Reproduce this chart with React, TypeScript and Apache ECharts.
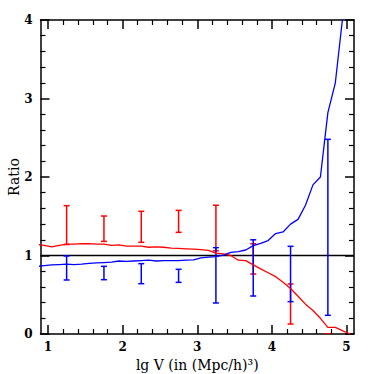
import React, { useEffect, useRef } from "react";
import * as echarts from "echarts";

const xs = [0.85, 0.95, 1.05, 1.15, 1.25, 1.35, 1.45, 1.55, 1.65, 1.75, 1.85, 1.95, 2.05, 2.15, 2.25, 2.35, 2.45, 2.55, 2.65, 2.75, 2.85, 2.95, 3.05, 3.15, 3.25, 3.35, 3.45, 3.55, 3.65, 3.75, 3.85, 3.95, 4.05, 4.15, 4.25, 4.35, 4.45, 4.55, 4.65, 4.75, 4.85, 4.95, 5.05];
const blueRatio = [0.86, 0.87, 0.88, 0.885, 0.89, 0.885, 0.89, 0.9, 0.905, 0.91, 0.915, 0.93, 0.925, 0.93, 0.935, 0.94, 0.93, 0.935, 0.935, 0.935, 0.94, 0.945, 0.97, 0.98, 0.985, 1.005, 1.04, 1.05, 1.07, 1.125, 1.155, 1.19, 1.28, 1.3, 1.4, 1.46, 1.64, 1.9, 2.0, 2.82, 3.2, 4.05, 5.0];
const redRatio = [1.14, 1.13, 1.11, 1.13, 1.145, 1.145, 1.15, 1.15, 1.145, 1.145, 1.13, 1.135, 1.12, 1.12, 1.12, 1.105, 1.11, 1.105, 1.095, 1.09, 1.085, 1.08, 1.075, 1.065, 1.03, 1.02, 1.0, 0.94, 0.935, 0.88, 0.83, 0.78, 0.73, 0.66, 0.58, 0.48, 0.38, 0.3, 0.2, 0.085, 0.085, 0.04, 0.0];

const errX = [1.25, 1.75, 2.25, 2.75, 3.25, 3.75, 4.25, 4.75];
const redLow = [1.14, 1.18, 1.168, 1.295, 1.06, 0.764, 0.127, 0.0];
const redHigh = [1.635, 1.503, 1.563, 1.575, 1.64, 1.15, 0.637, 0.0];
const blueLow = [0.688, 0.692, 0.641, 0.658, 0.395, 0.484, 0.412, 0.238];
const blueHigh = [0.994, 0.862, 0.896, 0.824, 1.1, 1.2, 1.117, 2.48];

const xMajorTicks = [1, 2, 3, 4, 5];
const xMinorTicks = [1.2, 1.4, 1.6, 1.8, 2.2, 2.4, 2.6, 2.8, 3.2, 3.4, 3.6, 3.8, 4.2, 4.4, 4.6, 4.8];
const refLevel = 1;

const FONT = "DejaVu Serif";
const RED = "#ff0000";
const BLUE = "#0000ff";

function errorBarSeries(name: string, low: number[], high: number[], color: string) {
  return {
    type: "custom",
    name,
    xAxisIndex: 0,
    yAxisIndex: 0,
    clip: true,
    data: errX.map((x, i) => [x, low[i], high[i]]),
    encode: { x: 0, y: [1, 2] },
    renderItem: (params: any, api: any) => {
      const x = api.value(0);
      const lo = api.coord([x, api.value(1)]);
      const hi = api.coord([x, api.value(2)]);
      const hw = 3;
      const style = { stroke: color, lineWidth: 1.5 };
      return {
        type: "group",
        children: [
          { type: "line", shape: { x1: lo[0], y1: lo[1], x2: hi[0], y2: hi[1] }, style },
          { type: "line", shape: { x1: lo[0] - hw, y1: lo[1], x2: lo[0] + hw, y2: lo[1] }, style },
          { type: "line", shape: { x1: hi[0] - hw, y1: hi[1], x2: hi[0] + hw, y2: hi[1] }, style },
        ],
      };
    },
  };
}

export default function App() {
  const ref = useRef<HTMLDivElement>(null);
  useEffect(() => {
    if (!ref.current) return;
    const chart = echarts.init(ref.current, null, { renderer: "svg" });
    const axisLine = { show: true, lineStyle: { color: "#000", width: 1.5 } };
    const labelStyle = { color: "#000", fontFamily: FONT, fontSize: 12, fontWeight: "bold" as const };
    const xBase = { type: "value", min: 0.9, max: 5.1, splitLine: { show: false } };
    const yBase = { type: "value", min: 0, max: 4, interval: 1, splitLine: { show: false } };
    chart.setOption({
      animation: false,
      backgroundColor: "#fff",
      grid: { left: 40.5, right: 20, top: 20, bottom: 40, containLabel: false, outerBoundsMode: "none" },
      xAxis: [
        {
          ...xBase,
          position: "bottom",
          axisLine,
          axisTick: { show: true, inside: true, length: 9, customValues: xMajorTicks, lineStyle: { color: "#000", width: 1.5 } },
          axisLabel: { show: true, customValues: xMajorTicks, margin: 7, ...labelStyle },
          name: "lg V (in (Mpc/h)\u00b3)",
          nameLocation: "middle",
          nameGap: 22,
          nameTextStyle: { color: "#000", fontFamily: FONT, fontSize: 14 },
        },
        {
          ...xBase,
          position: "bottom",
          axisLine: { show: false },
          axisTick: { show: true, inside: true, length: 5, customValues: xMinorTicks, lineStyle: { color: "#000", width: 1.2 } },
          axisLabel: { show: false },
        },
        {
          ...xBase,
          position: "top",
          axisLine,
          axisTick: { show: true, inside: true, length: 9, customValues: xMajorTicks, lineStyle: { color: "#000", width: 1.5 } },
          axisLabel: { show: false },
        },
        {
          ...xBase,
          position: "top",
          axisLine: { show: false },
          axisTick: { show: true, inside: true, length: 5, customValues: xMinorTicks, lineStyle: { color: "#000", width: 1.2 } },
          axisLabel: { show: false },
        },
      ],
      yAxis: [
        {
          ...yBase,
          position: "left",
          axisLine,
          axisTick: { show: true, inside: true, length: 9, lineStyle: { color: "#000", width: 1.5 } },
          minorTick: { show: true, splitNumber: 5, length: 5, lineStyle: { color: "#000", width: 1.2 } },
          axisLabel: { show: true, margin: 8, ...labelStyle },
          name: "Ratio",
          nameLocation: "middle",
          nameGap: 20,
          nameMoveOverlap: false,
          nameTextStyle: { color: "#000", fontFamily: FONT, fontSize: 14 },
        },
        {
          ...yBase,
          position: "right",
          axisLine,
          axisTick: { show: true, inside: true, length: 9, lineStyle: { color: "#000", width: 1.5 } },
          minorTick: { show: true, splitNumber: 5, length: 5, lineStyle: { color: "#000", width: 1.2 } },
          axisLabel: { show: false },
        },
      ],
      series: [
        {
          type: "line",
          name: "ref",
          data: [[0.9, refLevel], [5.1, refLevel]],
          showSymbol: false,
          lineStyle: { color: "#000", width: 1.5 },
          z: 1,
        },
        {
          type: "line",
          name: "red",
          data: xs.map((x, i) => [x, redRatio[i]]),
          showSymbol: false,
          clip: true,
          lineStyle: { color: RED, width: 1.3 },
          z: 2,
        },
        {
          type: "line",
          name: "blue",
          data: xs.map((x, i) => [x, blueRatio[i]]),
          showSymbol: false,
          clip: true,
          lineStyle: { color: BLUE, width: 1.3 },
          z: 2,
        },
        errorBarSeries("redErr", redLow, redHigh, RED),
        errorBarSeries("blueErr", blueLow, blueHigh, BLUE),
      ],
    });
    return () => chart.dispose();
  }, []);
  return <div ref={ref} style={{ width: 374, height: 374, position: "absolute", left: 0, top: 0 }} />;
}
